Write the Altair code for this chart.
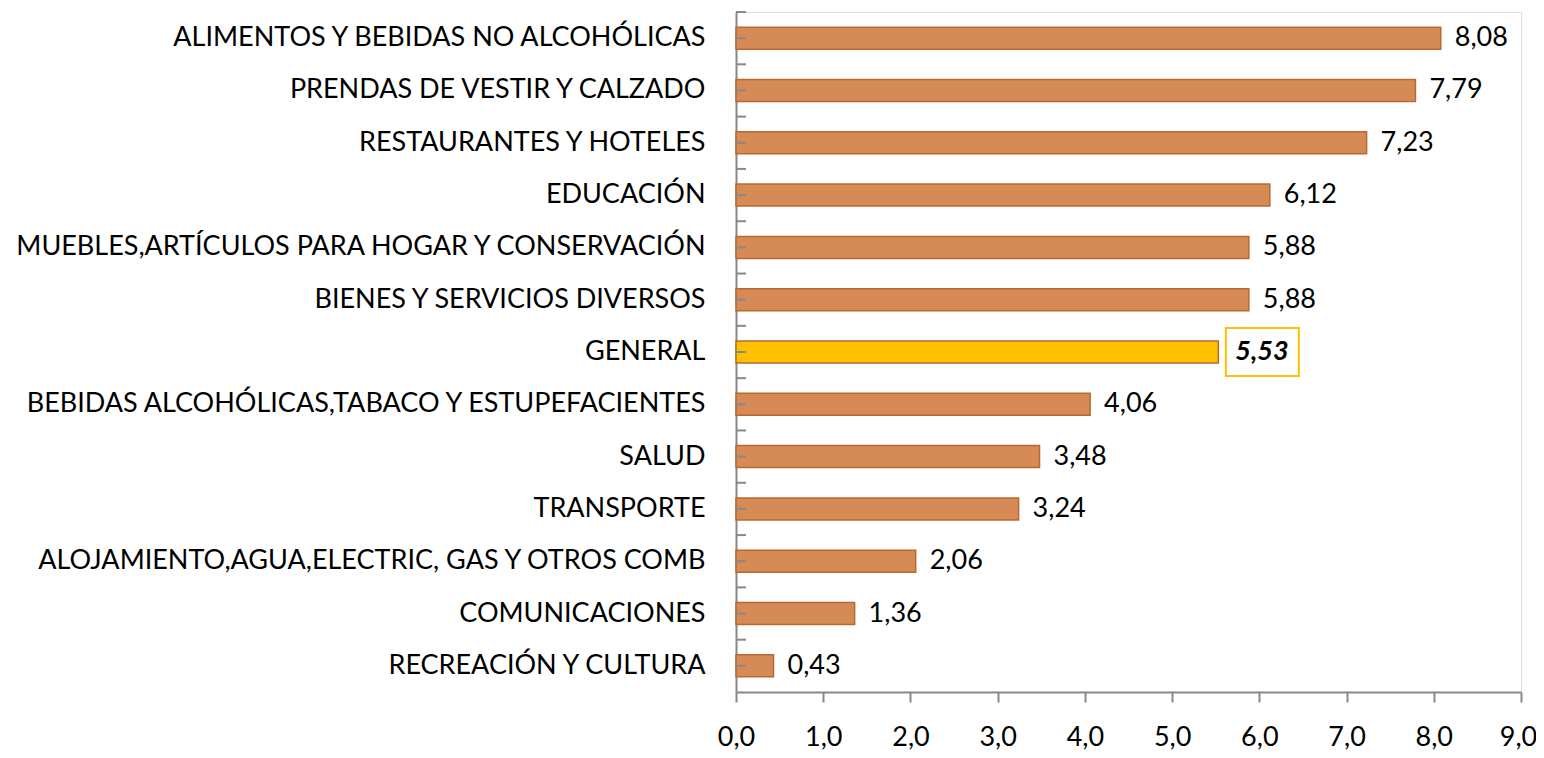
import altair as alt
import pandas as pd

categories = [
    "ALIMENTOS Y BEBIDAS NO ALCOHÓLICAS",
    "PRENDAS DE VESTIR Y CALZADO",
    "RESTAURANTES Y HOTELES",
    "EDUCACIÓN",
    "MUEBLES,ARTÍCULOS PARA HOGAR Y CONSERVACIÓN",
    "BIENES Y SERVICIOS DIVERSOS",
    "GENERAL",
    "BEBIDAS ALCOHÓLICAS,TABACO Y ESTUPEFACIENTES",
    "SALUD",
    "TRANSPORTE",
    "ALOJAMIENTO,AGUA,ELECTRIC, GAS Y OTROS COMB",
    "COMUNICACIONES",
    "RECREACIÓN Y CULTURA",
]
values = [8.08, 7.79, 7.23, 6.12, 5.88, 5.88, 5.53, 4.06, 3.48, 3.24, 2.06, 1.36, 0.43]
highlight = "GENERAL"
x_ticks = [0, 1, 2, 3, 4, 5, 6, 7, 8, 9]

df = pd.DataFrame({"cat": categories, "value": values})
df["is_general"] = df["cat"] == highlight

FONT = "Lato"
AXIS_GRAY = "#888888"

base = alt.Chart(df).transform_calculate(
    label="replace(format(datum.value, '.2f'), '.', ',')"
)

y_enc = alt.Y(
    "cat:N",
    sort=categories,
    scale=alt.Scale(paddingInner=0, paddingOuter=0),
    axis=alt.Axis(
        title=None,
        labelFont=FONT,
        labelFontSize=27,
        labelColor="#000000",
        labelPadding=31,
        labelLimit=1000,
        ticks=False,
        domain=True,
        domainColor=AXIS_GRAY,
        domainWidth=2,
    ),
)
x_enc = alt.X(
    "value:Q",
    scale=alt.Scale(domain=[0, 9], nice=False),
    axis=alt.Axis(
        title=None,
        values=x_ticks,
        labelExpr="replace(format(datum.value, '.1f'), '.', ',')",
        labelFont=FONT,
        labelFontSize=27,
        labelColor="#000000",
        labelPadding=22,
        labelFlush=False,
        labelOverlap=False,
        labelOffset={"condition": {"test": "datum.value == 9", "value": -3}, "value": 0},
        tickSize=10,
        tickColor=AXIS_GRAY,
        tickWidth=2,
        domainColor=AXIS_GRAY,
        domainWidth=2,
        grid=False,
    ),
)

bars = base.mark_bar(height=22, stroke="#B8692F", strokeWidth=1.5).encode(
    y=y_enc,
    x=x_enc,
    color=alt.condition(
        alt.datum.is_general, alt.value("#FFC000"), alt.value("#D68A55")
    ),
)

ticks_edge = base.mark_rule(color=AXIS_GRAY, strokeWidth=2).encode(
    y=alt.Y("cat:N", sort=categories, bandPosition=0),
    x=alt.value(0),
    x2=alt.value(10),
)
ticks_mid = base.mark_rule(color=AXIS_GRAY, strokeWidth=2).encode(
    y=alt.Y("cat:N", sort=categories, bandPosition=0.5),
    x=alt.value(0),
    x2=alt.value(10),
)

labels = base.transform_filter("!datum.is_general").mark_text(
    align="left", baseline="middle", dx=14, font=FONT, fontSize=27, color="#000000"
).encode(y=alt.Y("cat:N", sort=categories), x="value:Q", text="label:N")

gen_box = base.transform_filter("datum.is_general").mark_point(
    shape="M-1,-0.66L1,-0.66L1,0.66L-1,0.66Z",
    size=5329,
    filled=False,
    stroke="#FFC000",
    strokeWidth=2,
    fill="#FFFFFF",
    xOffset=44,
    opacity=1,
).encode(y=alt.Y("cat:N", sort=categories), x="value:Q")

gen_label = base.transform_filter("datum.is_general").mark_text(
    align="left",
    baseline="middle",
    dx=17,
    font=FONT,
    fontSize=27,
    fontWeight="bold",
    fontStyle="italic",
    color="#000000",
).encode(y=alt.Y("cat:N", sort=categories), x="value:Q", text="label:N")

chart = (
    alt.layer(bars, ticks_edge, ticks_mid, labels, gen_box, gen_label)
    .properties(
        width=785,
        height=680,
        autosize=alt.AutoSizeParams(type="none"),
        padding={"left": 728, "top": 4, "right": 15, "bottom": 58},
    )
    .configure_view(stroke=None)
    .configure(background="#FFFFFF")
)

chart.save("out.html", embed_options={"renderer": "svg", "actions": False})
